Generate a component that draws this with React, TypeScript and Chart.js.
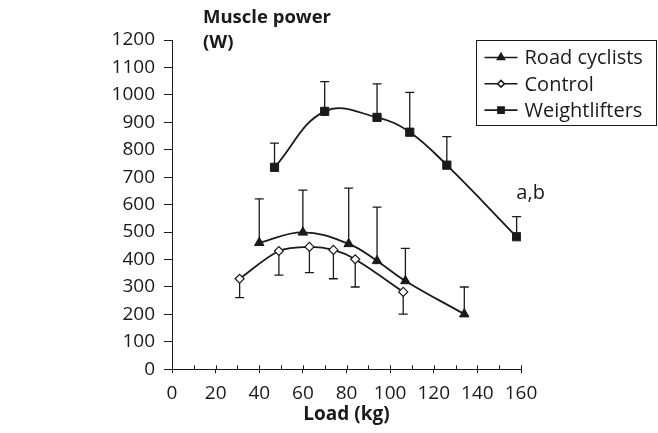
import React, { useEffect, useRef } from 'react';
import { Chart, registerables } from 'chart.js';
import { drawPoint } from 'chart.js/helpers';

Chart.register(...registerables);

// ---- data ----
const seriesNames = ['Road cyclists', 'Control', 'Weightlifters'];

const cyclistLoad = [40, 60, 81, 94, 107, 134];
const cyclistPower = [461, 499, 457, 395, 322, 201];
const cyclistSD = [160, 154, 203, 196, 119, 99];

const controlLoad = [31, 49, 63, 74, 84, 106];
const controlPower = [330, 431, 446, 435, 401, 282];
const controlSD = [69, 88, 94, 105, 101, 81];

const lifterLoad = [47, 70, 94, 109, 126, 158];
const lifterPower = [736, 940, 918, 864, 744, 483];
const lifterSD = [88, 108, 122, 145, 104, 73];

const xMin = 0;
const xMax = 160;
const xMinorStep = 10;
const xMajorStep = 20;
const yMin = 0;
const yMax = 1200;
const yStep = 100;

const yTitleLines = ['Muscle power', '(W)'];
const xTitle = 'Load (kg)';
const noteText = 'a,b';

const FONT = '"Open Sans", "Noto Sans", sans-serif';
const INK = '#1a1a1a';

const pts = (xs: number[], ys: number[]) => xs.map((x, i) => ({ x, y: ys[i] }));

const errorBarPlugin = {
  id: 'errorBars',
  beforeDatasetsDraw(chart: any) {
    const ctx = chart.ctx;
    const xs = chart.scales.x;
    const ys = chart.scales.y;
    ctx.save();
    ctx.strokeStyle = INK;
    ctx.lineWidth = 1.3;
    chart.data.datasets.forEach((ds: any) => {
      ds.data.forEach((p: any, i: number) => {
        const e = ds.errors[i] * ds.errDir;
        const px = xs.getPixelForValue(p.x);
        const py = ys.getPixelForValue(p.y);
        const pe = ys.getPixelForValue(p.y + e);
        ctx.beginPath();
        ctx.moveTo(px, py);
        ctx.lineTo(px, pe);
        ctx.moveTo(px - 4.5, pe);
        ctx.lineTo(px + 4.5, pe);
        ctx.stroke();
      });
    });
    ctx.restore();
  },
};

const decorPlugin = {
  id: 'decor',
  afterDraw(chart: any) {
    const ctx = chart.ctx;
    const { left, top, bottom } = chart.chartArea;
    const xs = chart.scales.x;
    const ys = chart.scales.y;
    ctx.save();
    // upward tick marks on x axis
    ctx.strokeStyle = INK;
    ctx.lineWidth = 1;
    xs.ticks.forEach((t: any) => {
      const px = Math.round(xs.getPixelForValue(t.value)) + 0.5;
      ctx.beginPath();
      ctx.moveTo(px, bottom - 4);
      ctx.lineTo(px, bottom);
      ctx.stroke();
    });
    // y-axis title (horizontal, top-left)
    ctx.fillStyle = INK;
    ctx.font = `bold 18.5px ${FONT}`;
    ctx.textAlign = 'left';
    ctx.textBaseline = 'middle';
    ctx.fillText(yTitleLines[0], left + 31, top - 22);
    ctx.fillText(yTitleLines[1], left + 31, top + 3);
    // annotation near last weightlifter point
    const lastI = lifterLoad.length - 1;
    const ax = xs.getPixelForValue(lifterLoad[lastI]);
    const ay = ys.getPixelForValue(lifterPower[lastI]);
    ctx.font = `20px ${FONT}`;
    ctx.textAlign = 'center';
    ctx.fillText(noteText, ax + 14, ay - 43);
    // boxed legend
    const w = 180;
    const h = 85;
    const lx = chart.width - w - 1.5;
    const ly = top + 0.5;
    ctx.lineWidth = 1;
    ctx.strokeRect(lx, ly, w, h);
    ctx.font = `20px ${FONT}`;
    ctx.textAlign = 'left';
    chart.data.datasets.forEach((ds: any, i: number) => {
      const cy = ly + 17 + i * 26.3;
      ctx.strokeStyle = INK;
      ctx.lineWidth = 1.6;
      ctx.beginPath();
      ctx.moveTo(lx + 8, cy);
      ctx.lineTo(lx + 41, cy);
      ctx.stroke();
      ctx.fillStyle = ds.pointBackgroundColor;
      ctx.strokeStyle = INK;
      drawPoint(ctx, { pointStyle: ds.pointStyle, radius: ds.pointRadius * 0.75, borderWidth: 1, rotation: 0 } as any, lx + 24.5, cy);
      ctx.fillStyle = INK;
      ctx.fillText(ds.label, lx + 48, cy + 1);
    });
    ctx.restore();
  },
};

export default function App() {
  const ref = useRef<HTMLCanvasElement>(null);
  useEffect(() => {
    if (!ref.current) return;
    const common = {
      borderColor: INK,
      borderWidth: 1.8,
      pointBorderColor: INK,
      pointBorderWidth: 1,
      fill: false,
    };
    const chart = new Chart(ref.current, {
      type: 'line',
      data: {
        datasets: [
          {
            ...common,
            label: seriesNames[0],
            data: pts(cyclistLoad, cyclistPower),
            tension: 0.4,
            pointStyle: 'triangle',
            pointRadius: 5.5,
            pointBackgroundColor: INK,
            errors: cyclistSD,
            errDir: 1,
          } as any,
          {
            ...common,
            label: seriesNames[1],
            data: pts(controlLoad, controlPower),
            tension: 0.3,
            pointStyle: 'rectRot',
            pointRadius: 4.5,
            pointBackgroundColor: '#ffffff',
            pointBorderWidth: 1.2,
            errors: controlSD,
            errDir: -1,
          } as any,
          {
            ...common,
            label: seriesNames[2],
            data: pts(lifterLoad, lifterPower),
            tension: 0.4,
            pointStyle: 'rect',
            pointRadius: 5.8,
            pointBackgroundColor: INK,
            errors: lifterSD,
            errDir: 1,
          } as any,
        ],
      },
      options: {
        animation: false,
        responsive: false,
        devicePixelRatio: 1,
        layout: { padding: { left: 0, top: 40, right: 137, bottom: 0 } },
        plugins: {
          legend: { display: false },
          tooltip: { enabled: false },
        },
        scales: {
          x: {
            type: 'linear',
            min: xMin,
            max: xMax,
            afterFit: (s: any) => {
              s.height = 63.7;
            },
            border: { display: true, color: INK, width: 1 },
            grid: {
              display: true,
              drawOnChartArea: false,
              drawTicks: true,
              tickLength: 4,
              color: (c: any) => (c.tick && c.tick.value % xMajorStep === 0 ? INK : 'rgba(0,0,0,0)'),
            },
            ticks: {
              stepSize: xMinorStep,
              autoSkip: false,
              maxRotation: 0,
              padding: 9,
              color: INK,
              font: { family: FONT, size: 19 },
              callback: (v: any) => (Number(v) % xMajorStep === 0 ? String(v) : ''),
            },
            title: {
              display: true,
              text: xTitle,
              color: INK,
              font: { family: FONT, size: 19, weight: 'bold' },
              padding: { top: 0, bottom: 7 },
            },
          },
          y: {
            type: 'linear',
            min: yMin,
            max: yMax,
            afterFit: (s: any) => {
              s.width = 172;
            },
            border: { display: true, color: INK, width: 1 },
            grid: {
              display: true,
              drawOnChartArea: false,
              drawTicks: true,
              tickLength: 8,
              color: INK,
            },
            ticks: {
              stepSize: yStep,
              autoSkip: false,
              padding: 9,
              color: INK,
              font: { family: FONT, size: 19 },
              callback: (v: any) => String(v),
            },
          },
        },
      } as any,
      plugins: [errorBarPlugin, decorPlugin],
    });
    return () => chart.destroy();
  }, []);
  return (
    <div style={{ position: 'absolute', left: 0, top: 0, width: 658, height: 433, background: '#fff' }}>
      <canvas ref={ref} width={658} height={433} style={{ display: 'block', width: 658, height: 433 }} />
    </div>
  );
}
